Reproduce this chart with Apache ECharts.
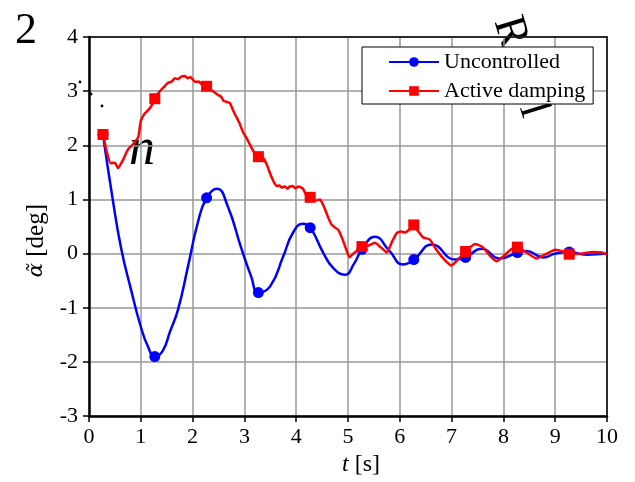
<!DOCTYPE html>
<html>
<head>
<meta charset="utf-8">
<script src="https://cdn.jsdelivr.net/npm/echarts@6/dist/echarts.min.js"></script>
<style>html,body{margin:0;padding:0;background:#fff}#c{width:635px;height:482px}</style>
</head>
<body>
<div id="c"></div>
<script>
const seriesNames = ['Uncontrolled', 'Active damping'];
const xTicks = [0, 1, 2, 3, 4, 5, 6, 7, 8, 9, 10];
const yTicks = [-3, -2, -1, 0, 1, 2, 3, 4];
const markerT = [0.27, 1.27, 2.27, 3.27, 4.27, 5.27, 6.27, 7.27, 8.27, 9.27];

const blueT = [0.27, 0.45, 0.62, 0.81, 1.0, 1.14, 1.27, 1.42, 1.56, 1.72, 1.91, 2.1, 2.27, 2.47, 2.68, 2.93, 3.13, 3.27, 3.5, 3.75, 3.94, 4.13, 4.27, 4.52, 4.71, 4.94, 5.12, 5.27, 5.52, 5.8, 6.06, 6.27, 6.62, 7.07, 7.27, 7.58, 7.93, 8.27, 8.45, 8.77, 9.0, 9.27, 9.6, 10.0];
const blueV = [2.2, 1.05, 0.1, -0.66, -1.35, -1.72, -1.9, -1.8, -1.45, -1.03, -0.24, 0.57, 1.03, 1.2, 0.87, 0.13, -0.42, -0.72, -0.6, -0.05, 0.39, 0.55, 0.48, 0.02, -0.26, -0.39, -0.18, 0.08, 0.31, 0.05, -0.2, -0.11, 0.17, -0.11, -0.07, 0.09, -0.09, 0.02, 0.05, -0.07, 0.0, 0.03, -0.02, 0.0];

const redT = [0.27, 0.35, 0.42, 0.5, 0.56, 0.65, 0.75, 0.85, 0.95, 1.0, 1.07, 1.14, 1.2, 1.27, 1.35, 1.45, 1.52, 1.6, 1.66, 1.72, 1.78, 1.85, 1.9, 1.96, 2.05, 2.12, 2.18, 2.27, 2.35, 2.42, 2.49, 2.55, 2.6, 2.67, 2.72, 2.78, 2.82, 2.9, 2.97, 3.05, 3.13, 3.2, 3.27, 3.35, 3.43, 3.48, 3.53, 3.58, 3.62, 3.68, 3.72, 3.78, 3.83, 3.88, 3.93, 3.98, 4.05, 4.13, 4.2, 4.27, 4.36, 4.46, 4.51, 4.56, 4.62, 4.68, 4.75, 4.81, 4.88, 4.95, 5.03, 5.1, 5.17, 5.27, 5.4, 5.52, 5.63, 5.75, 5.85, 5.94, 6.03, 6.1, 6.18, 6.27, 6.35, 6.45, 6.58, 6.7, 6.85, 7.0, 7.15, 7.27, 7.45, 7.6, 7.75, 7.87, 8.0, 8.15, 8.27, 8.45, 8.64, 8.8, 9.0, 9.15, 9.27, 9.5, 9.73, 9.9, 10.0];
const redV = [2.2, 1.85, 1.67, 1.68, 1.58, 1.72, 1.92, 2.02, 2.15, 2.45, 2.58, 2.65, 2.72, 2.86, 2.98, 3.08, 3.15, 3.18, 3.24, 3.22, 3.27, 3.28, 3.24, 3.26, 3.17, 3.18, 3.12, 3.09, 3.03, 2.98, 2.93, 2.9, 2.82, 2.8, 2.78, 2.65, 2.57, 2.42, 2.25, 2.12, 1.97, 1.85, 1.79, 1.78, 1.65, 1.52, 1.4, 1.3, 1.25, 1.26, 1.22, 1.24, 1.2, 1.24, 1.25, 1.21, 1.24, 1.2, 1.07, 1.04, 0.98, 1.0, 0.92, 0.81, 0.66, 0.54, 0.48, 0.44, 0.3, 0.12, -0.07, 0.0, 0.05, 0.13, 0.15, 0.2, 0.12, 0.02, 0.22, 0.38, 0.41, 0.39, 0.44, 0.53, 0.42, 0.3, 0.26, 0.08, -0.1, -0.22, -0.08, 0.04, 0.18, 0.12, -0.05, -0.14, -0.05, 0.08, 0.12, 0.02, -0.09, -0.02, 0.07, 0.04, -0.01, 0.0, 0.03, 0.02, -0.02];

const serif = 'Liberation Serif';

function build(ts, vs, sym) {
  return ts.map((t, i) => ({
    value: [t, vs[i]],
    symbol: markerT.indexOf(t) >= 0 ? sym : 'none'
  }));
}

const chart = echarts.init(document.getElementById('c'), null, {renderer: 'canvas'});
const axisCommon = {
  type: 'value',
  axisLine: {show: true, onZero: false, lineStyle: {color: '#000', width: 2.5}},
  axisTick: {show: true, inside: false, length: 6, lineStyle: {color: '#000', width: 1.5}},
  splitLine: {show: true, lineStyle: {color: '#999', width: 1.5}},
  axisLabel: {color: '#000', fontFamily: serif, fontSize: 22}
};
chart.setOption({
  animation: false,
  backgroundColor: '#fff',
  grid: {left: 89, right: 28, top: 37, bottom: 65},
  xAxis: [
    Object.assign({}, axisCommon, {
      min: xTicks[0], max: xTicks[xTicks.length - 1], interval: 1,
      axisLabel: Object.assign({}, axisCommon.axisLabel, {margin: 10, formatter: v => String(v)}),
      name: '{i|t} [s]', nameLocation: 'middle', nameGap: 35,
      nameTextStyle: {fontFamily: serif, fontSize: 24, color: '#000', padding: [0, 0, 0, 26],
        rich: {i: {fontFamily: serif, fontStyle: 'italic', fontSize: 24, color: '#000'}}}
    }),
    {type: 'value', position: 'top', min: 0, max: 10, axisLine: {show: true, onZero: false, lineStyle: {color: '#000', width: 1.5}},
     axisTick: {show: false}, axisLabel: {show: false}, splitLine: {show: false}}
  ],
  yAxis: [
    Object.assign({}, axisCommon, {
      min: yTicks[0], max: yTicks[yTicks.length - 1], interval: 1,
      axisLabel: Object.assign({}, axisCommon.axisLabel, {margin: 11, formatter: v => String(v)}),
      name: '{i|α̃} [deg]', nameLocation: 'middle', nameGap: 40, nameRotate: 90,
      nameTextStyle: {fontFamily: serif, fontSize: 25, color: '#000', padding: [0, 28, 0, 0],
        rich: {i: {fontFamily: 'DejaVu Serif', fontStyle: 'italic', fontSize: 21, color: '#000'}}}
    }),
    {type: 'value', position: 'right', min: -3, max: 4, axisLine: {show: true, onZero: false, lineStyle: {color: '#000', width: 1.5}},
     axisTick: {show: false}, axisLabel: {show: false}, splitLine: {show: false}}
  ],
  legend: {
    orient: 'vertical', left: 362, top: 47, padding: [4, 8, 2, 26],
    itemWidth: 50, itemHeight: 12, itemGap: 7,
    backgroundColor: '#fff', borderColor: '#000', borderWidth: 1, borderRadius: 0,
    textStyle: {fontFamily: serif, fontSize: 22, color: '#000'},
    data: seriesNames, z: 10
  },
  series: [
    {name: seriesNames[0], type: 'line', smooth: 0.5, symbol: 'circle', symbolSize: 11, showSymbol: true,
     data: build(blueT, blueV, 'circle'),
     lineStyle: {color: '#0000ff', width: 2.5}, itemStyle: {color: '#0000ff'}, z: 3},
    {name: seriesNames[1], type: 'line', smooth: 0.15, symbol: 'rect', symbolSize: 11, showSymbol: true,
     data: build(redT, redV, 'rect'),
     lineStyle: {color: '#ff0000', width: 2.5}, itemStyle: {color: '#ff0000'}, z: 4}
  ],
  graphic: [
    {type: 'text', x: 26, y: 31, z: 0, style: {text: '2', fontFamily: serif, fontSize: 44, fill: '#000', align: 'center', verticalAlign: 'middle'}},
    {type: 'text', x: 142, y: 150, z: 0, style: {text: 'n', fontFamily: serif, fontStyle: 'italic', fontSize: 52, fill: '#000', align: 'center', verticalAlign: 'middle'}},
    {type: 'text', x: 510, y: 32, rotation: -1.27, z: 0, style: {text: 'R', fontFamily: serif, fontSize: 45, fill: '#000', align: 'center', verticalAlign: 'middle'}},
    {type: 'text', x: 533, y: 110, rotation: -1.27, z: 0, style: {text: 'l', fontFamily: serif, fontSize: 45, fill: '#000', align: 'center', verticalAlign: 'middle'}},
    {type: 'circle', shape: {cx: 80, cy: 82, r: 1.4}, style: {fill: '#000'}, z: 0},
    {type: 'circle', shape: {cx: 91, cy: 94, r: 1.4}, style: {fill: '#000'}, z: 0},
    {type: 'circle', shape: {cx: 102, cy: 106, r: 1.4}, style: {fill: '#000'}, z: 0}
  ]
});
</script>
</body>
</html>
